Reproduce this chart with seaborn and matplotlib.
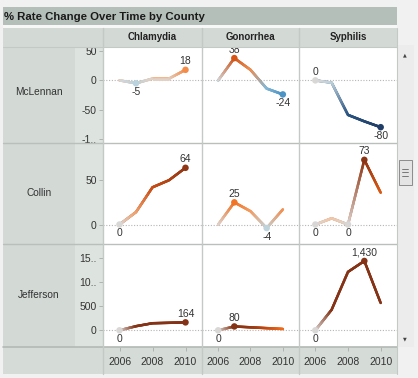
import numpy as np
import matplotlib
matplotlib.use("Agg")
import matplotlib.pyplot as plt
import seaborn as sns
import pandas as pd
from matplotlib.collections import LineCollection
from matplotlib.colors import LinearSegmentedColormap, Normalize
from matplotlib.patches import Rectangle
from matplotlib.lines import Line2D
from matplotlib.ticker import FixedLocator, FixedFormatter

# ---------------- data ----------------
title = "% Rate Change Over Time by County"
years = [2006, 2007, 2008, 2009, 2010]
counties = ["McLennan", "Collin", "Jefferson"]
diseases = ["Chlamydia", "Gonorrhea", "Syphilis"]

mclennan_chlamydia = [0, -5, 3, 3, 18]
mclennan_gonorrhea = [0, 38, 18, -14, -24]
mclennan_syphilis = [0, -4, -59, -70, -80]
collin_chlamydia = [0, 14, 42, 50, 64]
collin_gonorrhea = [0, 25, 15, -4, 17]
collin_syphilis = [0, 7, 0, 73, 36]
jefferson_chlamydia = [0, 85, 146, 155, 164]
jefferson_gonorrhea = [0, 80, 62, 45, 28]
jefferson_syphilis = [0, 425, 1205, 1430, 565]

x_ticks = [2006, 2008, 2010]
mclennan_yticks = [50, 0, -50, -100]
mclennan_yticklabels = ["50", "0", "-50", "-1.."]
collin_yticks = [50, 0]
collin_yticklabels = ["50", "0"]
jefferson_yticks = [1500, 1000, 500, 0]
jefferson_yticklabels = ["15..", "10..", "500", "0"]

series = {
    ("McLennan", "Chlamydia"): mclennan_chlamydia,
    ("McLennan", "Gonorrhea"): mclennan_gonorrhea,
    ("McLennan", "Syphilis"): mclennan_syphilis,
    ("Collin", "Chlamydia"): collin_chlamydia,
    ("Collin", "Gonorrhea"): collin_gonorrhea,
    ("Collin", "Syphilis"): collin_syphilis,
    ("Jefferson", "Chlamydia"): jefferson_chlamydia,
    ("Jefferson", "Gonorrhea"): jefferson_gonorrhea,
    ("Jefferson", "Syphilis"): jefferson_syphilis,
}
yticks = {"McLennan": (mclennan_yticks, mclennan_yticklabels),
          "Collin": (collin_yticks, collin_yticklabels),
          "Jefferson": (jefferson_yticks, jefferson_yticklabels)}

rows = []
for (c, d), vals in series.items():
    for y, v in zip(years, vals):
        rows.append({"county": c, "disease": d, "year": y, "value": v})
df = pd.DataFrame(rows)

# ---------------- style ----------------
sns.set_style("white")
plt.rcParams["font.family"] = ["Liberation Sans", "DejaVu Sans"]

W, H = 418, 378
fig = plt.figure(figsize=(W / 100, H / 100), dpi=100, facecolor="#f1f1f1")

def rect(x, y, w, h, color, z=-10, ec="none", lw=0):
    fig.add_artist(Rectangle((x / W, 1 - (y + h) / H), w / W, h / H,
                             transform=fig.transFigure, facecolor=color,
                             edgecolor=ec, linewidth=lw, zorder=z))

def hline(x0, x1, y, color, lw=1.0, z=5):
    fig.add_artist(Line2D([x0 / W, x1 / W], [1 - y / H, 1 - y / H],
                          transform=fig.transFigure, color=color, lw=lw, zorder=z))

def vline(x, y0, y1, color, lw=1.0, z=5):
    fig.add_artist(Line2D([x / W, x / W], [1 - y0 / H, 1 - y1 / H],
                          transform=fig.transFigure, color=color, lw=lw, zorder=z))

def ftext(x, y, s, **kw):
    fig.text(x / W, 1 - y / H, s, **kw)

col_x = [103, 202, 299, 397]
row_y = [47, 143, 244, 347]
ylims = {"McLennan": (-107, 57), "Collin": (-22, 92), "Jefferson": (-344, 1780)}

# backgrounds
rect(3, 7, 394, 18, "#b5bfb9")
rect(3, 25, 394, 3, "#f7f7f7")
rect(3, 28, 394, 19, "#d3d9d5")
rect(3, 47, 72, 300, "#d3d9d5")
rect(75, 47, 28, 300, "#dde3df")
rect(3, 347, 394, 27, "#d5dbd7")

ftext(4, 16.5, title, fontsize=8.2, fontweight="bold", color="#1a1a1a",
      va="center", ha="left")

for j, d in enumerate(diseases):
    ftext((col_x[j] + col_x[j + 1]) / 2, 37.5, d, fontsize=7, fontweight="bold",
          color="#222222", ha="center", va="center")

label_y = {"McLennan": 92, "Collin": 193.5, "Jefferson": 294.5}
for c in counties:
    ftext(39, label_y[c], c, fontsize=7.3, color="#333333", ha="center", va="center")

# colormap (diverging orange-blue)
stops = [(-80, "#1f3d66"), (-50, "#2f5f90"), (-24, "#4d93c4"), (-8, "#a7cfe2"),
         (0, "#d8d8d8"), (8, "#f3c5a2"), (18, "#f38b48"), (28, "#f06a18"),
         (42, "#cb4c12"), (62, "#933714"), (80, "#853316")]
cmap = LinearSegmentedColormap.from_list(
    "ob", [((v + 80) / 160, col) for v, col in stops])
norm = Normalize(vmin=-80, vmax=80, clip=True)

def col_of(v):
    return np.array(cmap(norm(v)))

def fmt(v):
    return f"{int(round(v)):,}"

for i, c in enumerate(counties):
    for j, d in enumerate(diseases):
        x0, x1 = col_x[j], col_x[j + 1]
        y0, y1 = row_y[i], row_y[i + 1]
        ax = fig.add_axes([x0 / W, 1 - y1 / H, (x1 - x0) / W, (y1 - y0) / H])
        ax.set_facecolor("white")
        sub = df[(df.county == c) & (df.disease == d)]
        vals = list(sub["value"])
        xs = list(sub["year"])
        # base line through seaborn
        sns.lineplot(data=sub, x="year", y="value", ax=ax, color=col_of(vals[-1]),
                     lw=1.8, legend=False, zorder=2)
        # gradient overlay: colour blends between the point colours
        segs, cols = [], []
        for k in range(len(xs) - 1):
            ca, cb = col_of(vals[k]), col_of(vals[k + 1])
            t = np.linspace(0, 1, 17)
            px = xs[k] + (xs[k + 1] - xs[k]) * t
            py = vals[k] + (vals[k + 1] - vals[k]) * t
            for m in range(len(t) - 1):
                tm = (t[m] + t[m + 1]) / 2
                segs.append([(px[m], py[m]), (px[m + 1], py[m + 1])])
                cols.append(tuple(ca * (1 - tm) + cb * tm))
        lc = LineCollection(segs, colors=cols, linewidths=1.8, capstyle="round",
                            joinstyle="round", zorder=3)
        ax.add_collection(lc)
        ax.axhline(0, color="#b5b5b5", lw=0.8, ls=(0, (1, 1.5)), zorder=1)
        # labels at min and max
        vmax, vmin = max(vals), min(vals)
        lab = sub[(sub.value == vmax) | (sub.value == vmin)]
        sns.scatterplot(data=lab, x="year", y="value", ax=ax,
                        color=[col_of(v) for v in lab["value"]], s=22,
                        edgecolor="none", legend=False, zorder=4)
        for _, r in lab.iterrows():
            above = r.value == vmax and not (r.value == vmin and vmax == 0)
            off = 6.2 if above else -6.4
            ax.annotate(fmt(r.value), (r.year, r.value), xytext=(0, off),
                        textcoords="offset points", ha="center", va="center",
                        fontsize=7.5, color="#333333", annotation_clip=False,
                        clip_on=True, zorder=5)
        ax.set_xlim(2005, 2011)
        ax.set_ylim(*ylims[c])
        for s in ax.spines.values():
            s.set_visible(False)
        ax.set_xlabel("")
        ax.set_ylabel("")
        if j == 0:
            tv, tl = yticks[c]
            ax.yaxis.set_major_locator(FixedLocator(tv))
            ax.yaxis.set_major_formatter(FixedFormatter(tl))
            ax.tick_params(axis="y", left=True, length=3, width=0.6, color="#aaaaaa",
                           pad=1.5, labelsize=7.5, labelcolor="#333333")
        else:
            ax.set_yticks([])
        if i == len(counties) - 1:
            ax.set_xticks(x_ticks)
            ax.set_xticklabels([str(t) for t in x_ticks])
            ax.tick_params(axis="x", bottom=True, length=3, width=0.6, color="#aaaaaa",
                           pad=4, labelsize=7.5, labelcolor="#333333")
        else:
            ax.set_xticks([])

# separators
for y in [143, 244]:
    hline(3, 397, y, "#b9bfbb", lw=1.0)
hline(3, 397, 347, "#b3b9b5", lw=1.2)
hline(3, 397, 47, "#c3c9c5", lw=0.8)
for x in [202, 299]:
    vline(x, 28, 374, "#c3c9c5", lw=1.0)
vline(103, 28, 374, "#c3c9c5", lw=1.0)
vline(397, 28, 374, "#c3c9c5", lw=0.8)

# scrollbar
rect(398, 45, 16, 302, "#ececec", z=-5)
rect(398.5, 160, 13, 25, "#e4e4e4", z=6, ec="#8c8c8c", lw=0.7)
for yy in [169, 172.5, 176]:
    hline(402, 408, yy, "#666666", lw=0.6, z=7)
ftext(405, 55, "\u25b2", fontsize=3.5, color="#444444", ha="center", va="center",
      family="DejaVu Sans")
ftext(405, 339, "\u25bc", fontsize=3.5, color="#444444", ha="center", va="center",
      family="DejaVu Sans")

fig.savefig("out.png", dpi=100, facecolor=fig.get_facecolor())
